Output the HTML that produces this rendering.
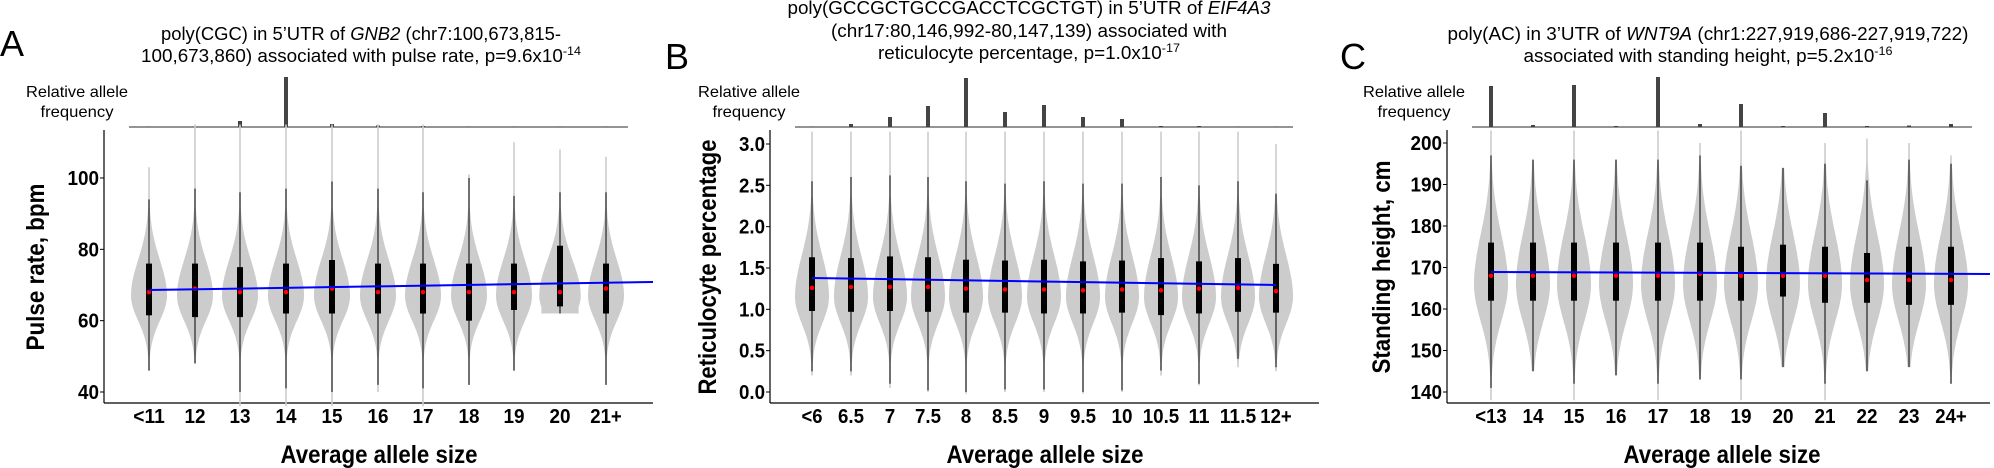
<!DOCTYPE html>
<html><head><meta charset="utf-8"><style>
html,body{margin:0;padding:0;background:#fff}
svg{display:block}
text{font-family:"Liberation Sans",sans-serif}
</style></head><body>
<svg id="s" width="1994" height="468" viewBox="0 0 1994 468" xmlns="http://www.w3.org/2000/svg">
<g font-size="18" text-anchor="middle" fill="#000">
<text x="0" y="56" font-size="36" text-anchor="start">A</text>
<text x="361" y="40" textLength="400" lengthAdjust="spacingAndGlyphs">poly(CGC) in 5’UTR of <tspan font-style="italic">GNB2</tspan> (chr7:100,673,815-</text>
<text x="361" y="62" textLength="440" lengthAdjust="spacingAndGlyphs">100,673,860) associated with pulse rate, p=9.6x10<tspan font-size="12" dy="-7">-14</tspan></text>
<text x="665" y="69" font-size="36" text-anchor="start">B</text>
<text x="1029" y="14" textLength="483" lengthAdjust="spacingAndGlyphs">poly(GCCGCTGCCGACCTCGCTGT) in 5’UTR of <tspan font-style="italic">EIF4A3</tspan></text>
<text x="1029" y="37" textLength="396" lengthAdjust="spacingAndGlyphs">(chr17:80,146,992-80,147,139) associated with</text>
<text x="1029" y="59" textLength="302" lengthAdjust="spacingAndGlyphs">reticulocyte percentage, p=1.0x10<tspan font-size="12" dy="-7">-17</tspan></text>
<text x="1340" y="69" font-size="36" text-anchor="start">C</text>
<text x="1708" y="40" textLength="521" lengthAdjust="spacingAndGlyphs">poly(AC) in 3’UTR of <tspan font-style="italic">WNT9A</tspan> (chr1:227,919,686-227,919,722)</text>
<text x="1708" y="62" textLength="369" lengthAdjust="spacingAndGlyphs">associated with standing height, p=5.2x10<tspan font-size="12" dy="-7">-16</tspan></text>
</g>
<g id="g"></g>
</svg>
<script>
var g=document.getElementById('g'),h='';
function TL(s){var n=0;for(var i=0;i<s.length;i++){n+=(s[i]=='.')?5:10.5;}return n;}
function P(o){
 h+='<line x1="'+o.ax+'" y1="130" x2="'+o.ax+'" y2="403" stroke="#000" stroke-width="1.2"/>';
 h+='<line x1="'+o.ax+'" y1="403" x2="'+o.xr+'" y2="403" stroke="#000" stroke-width="1.2"/>';
 h+='<line x1="'+o.f0+'" y1="127" x2="'+o.f1+'" y2="127" stroke="#555" stroke-width="1.2"/>';
 h+='<text x="'+o.rl+'" y="97" font-size="16" text-anchor="middle" textLength="102" lengthAdjust="spacingAndGlyphs">Relative allele</text><text x="'+o.rl+'" y="117" font-size="16" text-anchor="middle" textLength="73" lengthAdjust="spacingAndGlyphs">frequency</text>';
 o.ticks.forEach(function(t){var y=o.Y(t[0]);h+='<line x1="'+(o.ax-4)+'" y1="'+y+'" x2="'+o.ax+'" y2="'+y+'" stroke="#000"/>';
  h+='<text x="'+(o.ax-5)+'" y="'+(y+7)+'" font-size="20" font-weight="bold" text-anchor="end" textLength="'+TL(t[1])+'" lengthAdjust="spacingAndGlyphs">'+t[1]+'</text>';});
 h+='<text transform="translate('+o.yl+',267) rotate(-90)" font-size="25" font-weight="bold" text-anchor="middle" textLength="'+o.yll+'" lengthAdjust="spacingAndGlyphs">'+o.ylab+'</text>';
 h+='<text x="'+o.xc+'" y="463" font-size="25" font-weight="bold" text-anchor="middle" textLength="'+o.xl+'" lengthAdjust="spacingAndGlyphs">Average allele size</text>';
 o.c.forEach(function(c,i){
  var x=o.xs[i];
  var lab=c[0].replace('&lt;','<');
  h+='<text x="'+x+'" y="423" font-size="20" font-weight="bold" text-anchor="middle" textLength="'+TL(lab)+'" lengthAdjust="spacingAndGlyphs">'+c[0]+'</text>';
  h+='<rect x="'+(x-2)+'" y="'+c[8]+'" width="4" height="'+(127-c[8])+'" fill="#444"/>';
  var vmin=c[1],vmax=c[2],m=o.mode,sl=o.sl,su=o.su,W=o.W*(c[9]||1),L=[],R=[];
  for(var k=0;k<=80;k++){var v=vmin+(vmax-vmin)*k/80;var s=v<m?sl:su;var w=W*Math.exp(-Math.pow((v-m)/s,2)/2);if(c[10]&&k<4)w=W*0.9;w=Math.max(w,0.8);var y=o.Y(v);L.push((x-w).toFixed(1)+','+y.toFixed(1));R.unshift((x+w).toFixed(1)+','+y.toFixed(1));}
  h+='<polygon points="'+L.concat(R).join(' ')+'" fill="#cccccc"/>';
  h+='<line x1="'+x+'" y1="'+o.Y(c[3])+'" x2="'+x+'" y2="'+o.Y(c[4])+'" stroke="#000" stroke-width="1"/>';
  h+='<rect x="'+(x-3)+'" y="'+o.Y(c[6])+'" width="6" height="'+(o.Y(c[5])-o.Y(c[6]))+'" fill="#000"/>';
  h+='<circle cx="'+x+'" cy="'+o.Y(c[7])+'" r="2.3" fill="#f00"/>';
 });
 h+='<line x1="'+o.bl[0]+'" y1="'+o.bl[1]+'" x2="'+o.bl[2]+'" y2="'+o.bl[3]+'" stroke="#0000ff" stroke-width="2"/>';
}
P({ax:104,xr:653,f0:129,f1:628,rl:77,yl:44,ylab:'Pulse rate, bpm',yll:167,xc:379,xl:197,Y:function(v){return 392-(v-40)*3.567},
 ticks:[[40,'40'],[60,'60'],[80,'80'],[100,'100']],mode:67,sl:7,su:10,W:18,
 xs:[149,195,240,286,332,378,423,469,514,560,606],
 c:[['&lt;11',46,103,46,94,61.5,76,68,126.5],['12',48,115,48,97,61,76,69,126.5],['13',36,115,40,96,61,75,68,121],['14',36,115,41,97,62,76,68,77],['15',36,115,40,99,62,77,69,124],['16',40,115,42,97,62,76,68,125.5],['17',36,115,41,96,62,76,68,126],['18',42,101,42,100,60,76,68,126.5],['19',46,110,46,95,63,76,68,126.5],['20',62,108,62,96,64,81,68,126.5,1.15,1],['21+',42,106,42,96,62,76,69,126.5]],
 bl:[149,290,653,282]});
P({ax:770,xr:1319,f0:795,f1:1293,rl:749,yl:716,ylab:'Reticulocyte percentage',yll:255,xc:1045,xl:197,Y:function(v){return 392-v*82.67},
 ticks:[[0,'0.0'],[0.5,'0.5'],[1,'1.0'],[1.5,'1.5'],[2,'2.0'],[2.5,'2.5'],[3,'3.0']],mode:1.15,sl:0.32,su:0.5,W:17,
 xs:[812,851,890,928,966,1005,1044,1083,1122,1161,1199,1238,1276],
 c:[['&lt;6',0.2,3.15,0.25,2.55,0.98,1.63,1.26,126.5],['6.5',0.2,3.15,0.25,2.6,0.97,1.62,1.27,124],['7',0.05,3.15,0.1,2.62,0.98,1.64,1.27,117],['7.5',0,3.15,0.02,2.6,0.97,1.63,1.27,106],['8',-0.02,3.15,0,2.55,0.96,1.6,1.25,78],['8.5',0,3.15,0.03,2.52,0.96,1.59,1.24,112],['9',0,3.15,0.03,2.55,0.95,1.6,1.24,105],['9.5',-0.02,3.15,0,2.52,0.95,1.58,1.23,117],['10',0,3.15,0.02,2.52,0.96,1.59,1.24,119],['10.5',0.2,3.15,0.26,2.6,0.93,1.62,1.23,126],['11',0.08,3.15,0.1,2.5,0.95,1.58,1.25,126],['11.5',0.3,3.15,0.4,2.55,0.97,1.62,1.26,126.5],['12+',0.25,3.0,0.3,2.4,0.96,1.55,1.22,126.5]],
 bl:[812,278,1276,285]});
P({ax:1447,xr:1990,f0:1472,f1:1972,rl:1414,yl:1390,ylab:'Standing height, cm',yll:213,xc:1722,xl:197,Y:function(v){return 392-(v-140)*4.15},
 ticks:[[140,'140'],[150,'150'],[160,'160'],[170,'170'],[180,'180'],[190,'190'],[200,'200']],mode:166,sl:9,su:12,W:17,
 xs:[1491,1533,1574,1616,1658,1700,1741,1783,1825,1867,1909,1951],
 c:[['&lt;13',138,203,141,197,162,176,168,86],['14',145,196,145,196,162,176,168,125],['15',138,203,142,196,162,176,168,85],['16',144,196,144,196,162,176,168,126],['17',138,203,142,196,162,176,168,77],['18',143,200,143,197,162,176,168.5,124],['19',138,203,143,194.5,162,175,168,104],['20',146,194,146,194,163,175.5,168,126],['21',138,200,142,195,161.5,175,168,113],['22',145,201,145,191,161.5,173.5,167,126],['23',146,200,146,196,161,175,167,125.5],['24+',142,197,142,195,161,175,167,124]],
 bl:[1491,272,1990,274]});
g.innerHTML=h;
</script>
</body></html>
